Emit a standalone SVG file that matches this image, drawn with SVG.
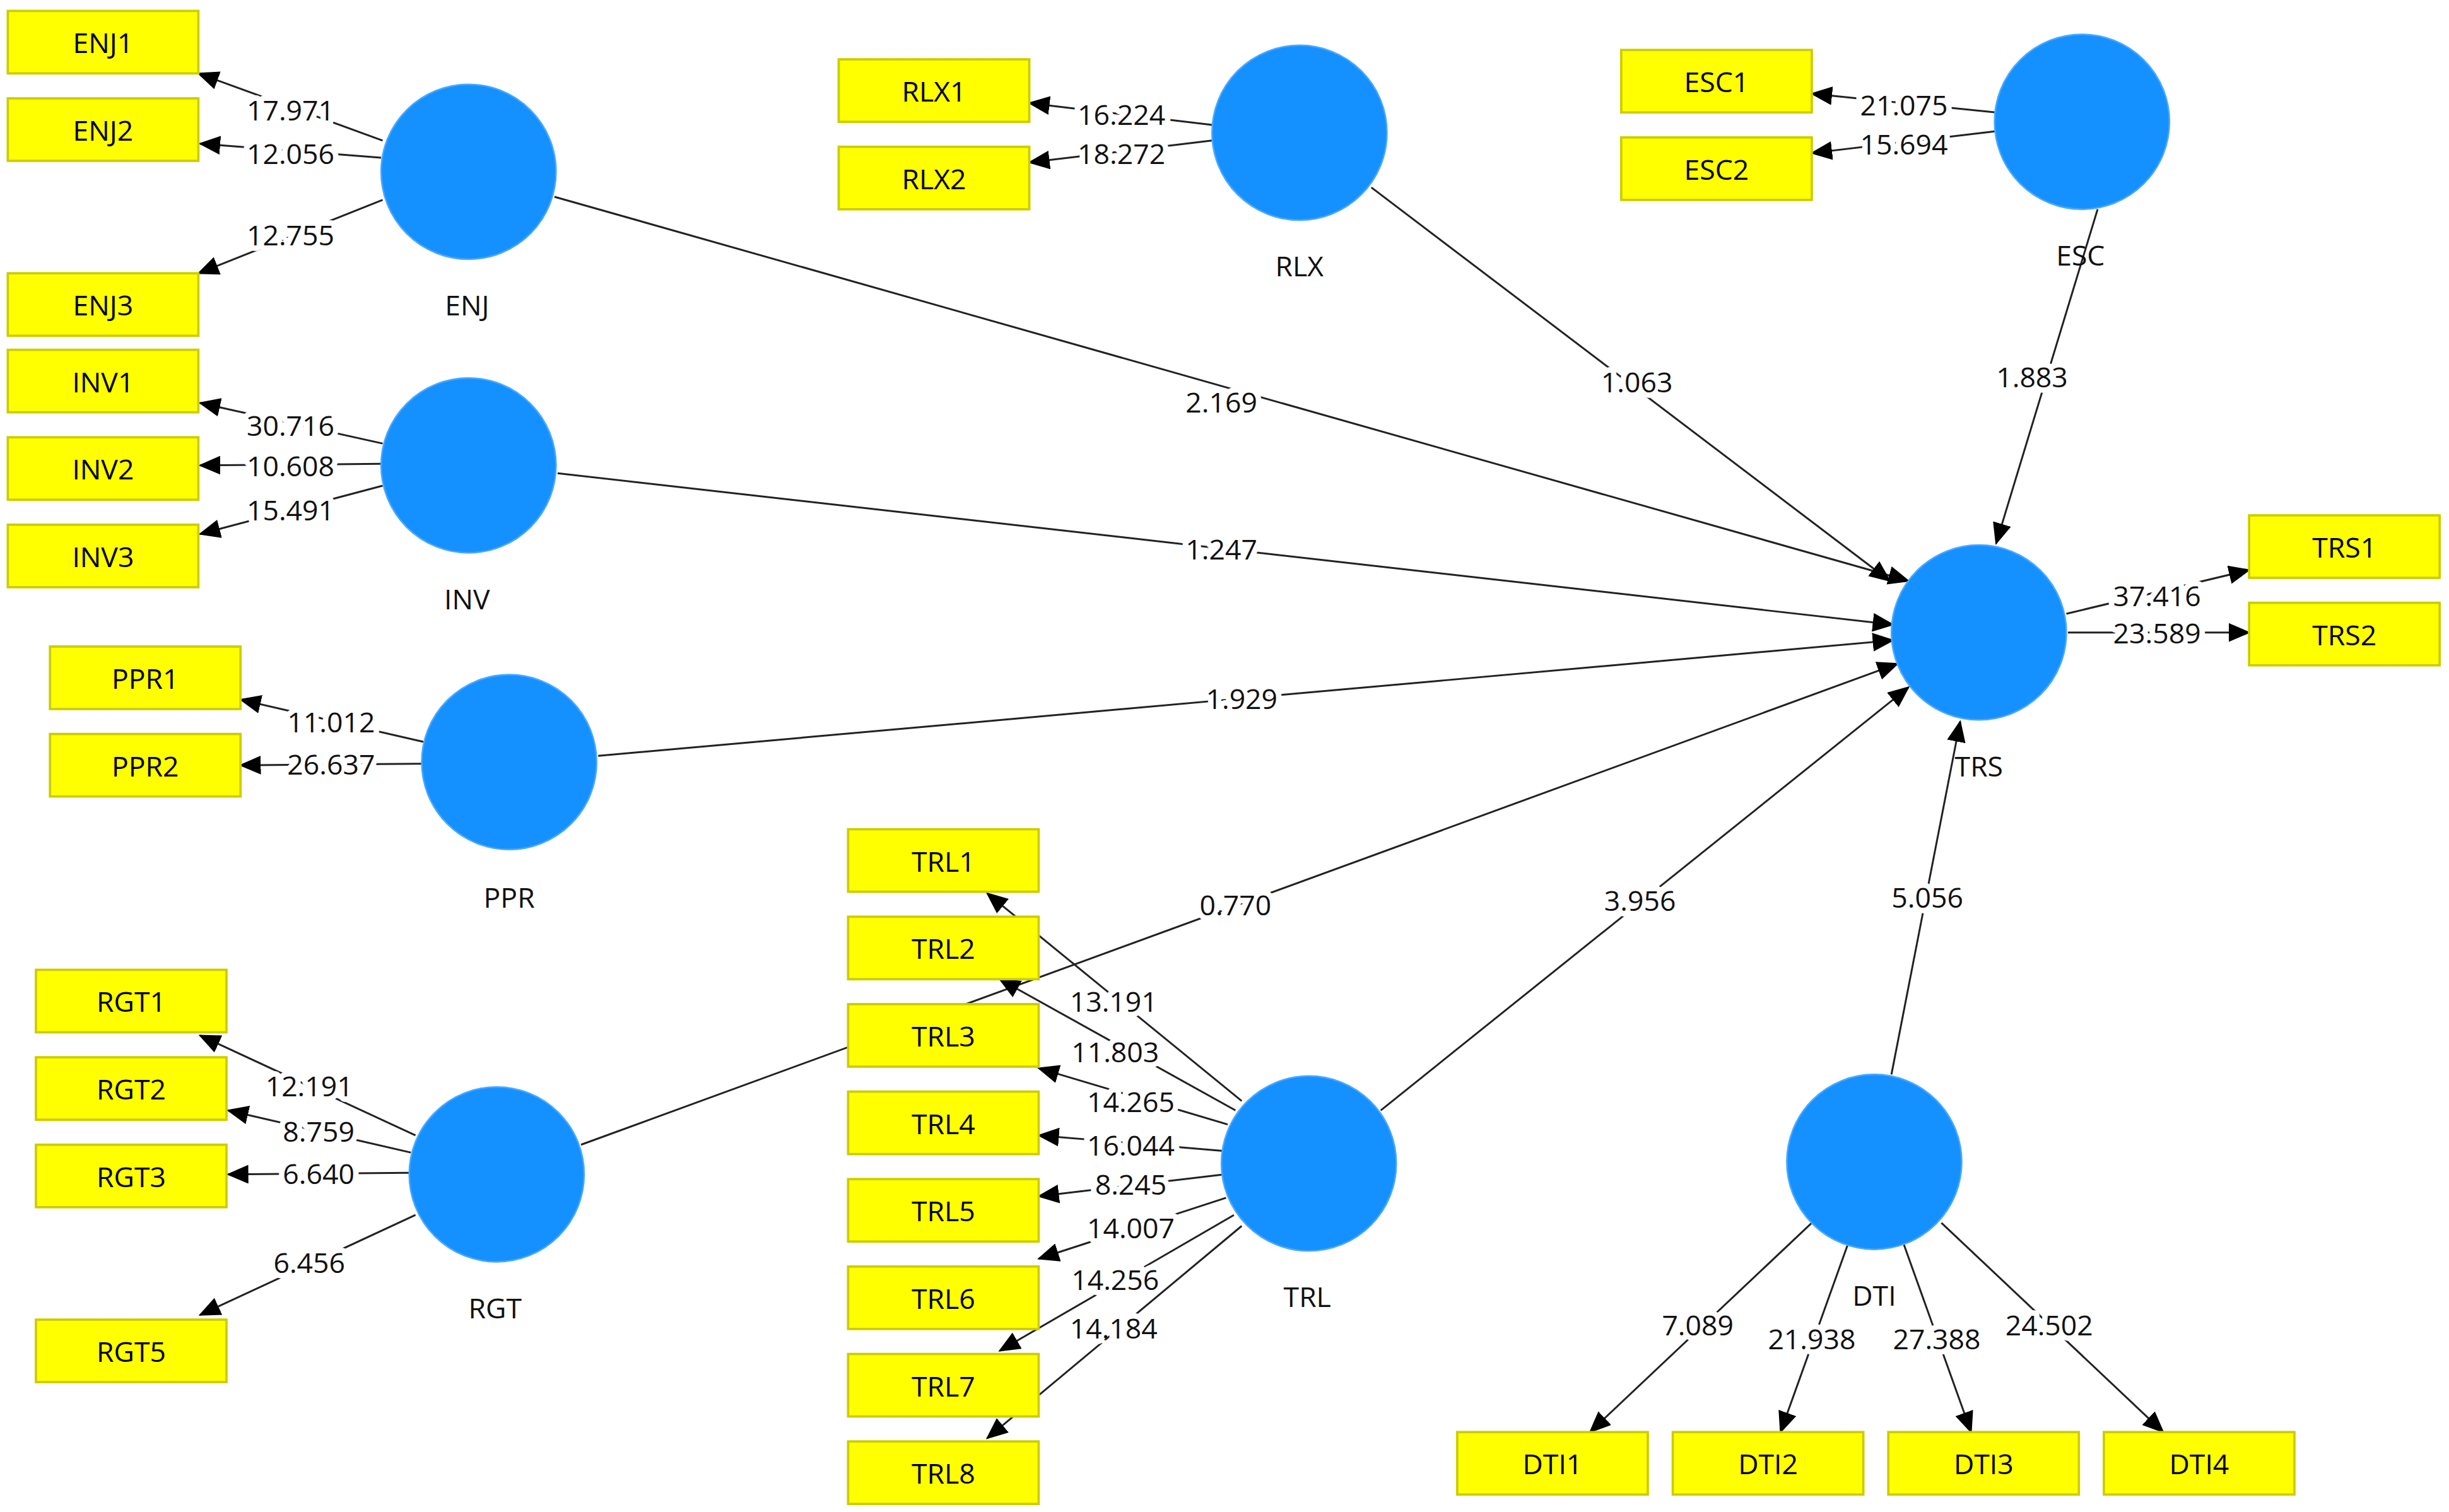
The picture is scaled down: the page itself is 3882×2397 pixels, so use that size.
<svg xmlns="http://www.w3.org/2000/svg" width="3882" height="2397" viewBox="0 0 3882 2397">
<style>
.bx{fill:#ffff00;stroke:#cccc00;stroke-width:1.5}
.bt{font-family:"Open Sans","Liberation Sans",sans-serif;font-size:18px;fill:#000;text-anchor:middle;dominant-baseline:central}
.cn{fill:#1591ff;stroke:#4aa8ff;stroke-width:1}
.ct{font-family:"Open Sans","Liberation Sans",sans-serif;font-size:18px;fill:#111;text-anchor:middle;dominant-baseline:central}
.ln{stroke:#222;stroke-width:1.2;fill:none;marker-end:url(#ah)}
.lb{font-family:"Open Sans","Liberation Sans",sans-serif;font-size:18px;fill:#111;text-anchor:middle;dominant-baseline:central;stroke:#fff;stroke-width:7;paint-order:stroke;stroke-linejoin:round}
</style>
<defs>
<marker id="ah" markerUnits="userSpaceOnUse" markerWidth="14" markerHeight="12" refX="13" refY="6" orient="auto"><path d="M0,0 L14,6 L0,12 z" fill="#000"/></marker>
</defs>
<rect width="3882" height="2397" fill="#fff"/>
<g transform="scale(2.4758)">
<g id="connectors">
<line class="ln" x1="355" y1="126" x2="1222" y2="372"/><text class="lb" x="782" y="257">2.169</text>
<line class="ln" x1="357" y1="303" x2="1212" y2="400"/><text class="lb" x="782" y="351">1.247</text>
<line class="ln" x1="383" y1="484" x2="1212" y2="410"/><text class="lb" x="795" y="447">1.929</text>
<line class="ln" x1="372" y1="733" x2="1215" y2="425"/><text class="lb" x="791" y="579">0.770</text>
<line class="ln" x1="884" y1="711" x2="1222" y2="440"/><text class="lb" x="1050" y="576">3.956</text>
<line class="ln" x1="878" y1="120" x2="1210" y2="372"/><text class="lb" x="1048" y="244">1.063</text>
<line class="ln" x1="1343" y1="134" x2="1278" y2="348"/><text class="lb" x="1301" y="241">1.883</text>
<line class="ln" x1="1211" y1="688" x2="1255" y2="462"/><text class="lb" x="1234" y="574">5.056</text>

<line class="ln" x1="245" y1="90" x2="127" y2="47"/><text class="lb" x="186" y="70">17.971</text>
<line class="ln" x1="244" y1="101" x2="128" y2="92"/><text class="lb" x="186" y="98">12.056</text>
<line class="ln" x1="245" y1="128" x2="127" y2="175"/><text class="lb" x="186" y="150">12.755</text>
<line class="ln" x1="245" y1="284" x2="128" y2="258"/><text class="lb" x="186" y="272">30.716</text>
<line class="ln" x1="244" y1="297" x2="128" y2="298"/><text class="lb" x="186" y="298">10.608</text>
<line class="ln" x1="245" y1="311" x2="128" y2="342"/><text class="lb" x="186" y="326">15.491</text>
<line class="ln" x1="271" y1="475" x2="154" y2="448"/><text class="lb" x="212" y="462">11.012</text>
<line class="ln" x1="270" y1="489" x2="154" y2="490"/><text class="lb" x="212" y="489">26.637</text>
<line class="ln" x1="266" y1="727" x2="128" y2="663"/><text class="lb" x="198" y="695">12.191</text>
<line class="ln" x1="263" y1="738" x2="146" y2="711"/><text class="lb" x="204" y="724">8.759</text>
<line class="ln" x1="262" y1="751" x2="146" y2="752"/><text class="lb" x="204" y="751">6.640</text>
<line class="ln" x1="266" y1="778" x2="128" y2="842"/><text class="lb" x="198" y="808">6.456</text>
<line class="ln" x1="776" y1="80" x2="659" y2="66"/><text class="lb" x="718" y="73">16.224</text>
<line class="ln" x1="776" y1="90" x2="659" y2="104"/><text class="lb" x="718" y="98">18.272</text>
<line class="ln" x1="1278" y1="72" x2="1160" y2="60"/><text class="lb" x="1219" y="67">21.075</text>
<line class="ln" x1="1278" y1="84" x2="1160" y2="98"/><text class="lb" x="1219" y="92">15.694</text>
<line class="ln" x1="1323" y1="393" x2="1440" y2="365"/><text class="lb" x="1381" y="381">37.416</text>
<line class="ln" x1="1324" y1="405" x2="1440" y2="405"/><text class="lb" x="1381" y="405">23.589</text>
<line class="ln" x1="795" y1="705" x2="632" y2="572"/>
<line class="ln" x1="791" y1="711" x2="640" y2="627"/>
<line class="ln" x1="786" y1="720" x2="665" y2="684"/>
<line class="ln" x1="784" y1="737" x2="665" y2="727"/>
<line class="ln" x1="784" y1="752" x2="665" y2="766"/>
<line class="ln" x1="785" y1="767" x2="665" y2="806"/>
<line class="ln" x1="790" y1="778" x2="640" y2="865"/>
<line class="ln" x1="795" y1="785" x2="632" y2="921"/>
<text class="lb" x="713" y="641">13.191</text>
<text class="lb" x="714" y="673">11.803</text>
<text class="lb" x="724" y="705">14.265</text>
<text class="lb" x="724" y="733">16.044</text>
<text class="lb" x="724" y="758">8.245</text>
<text class="lb" x="724" y="786">14.007</text>
<text class="lb" x="714" y="819">14.256</text>
<text class="lb" x="713" y="850">14.184</text>
<line class="ln" x1="1160" y1="783" x2="1018" y2="917"/><text class="lb" x="1087" y="848">7.089</text>
<line class="ln" x1="1183" y1="797" x2="1140" y2="917"/><text class="lb" x="1160" y="857">21.938</text>
<line class="ln" x1="1219" y1="797" x2="1262" y2="917"/><text class="lb" x="1240" y="857">27.388</text>
<line class="ln" x1="1243" y1="783" x2="1385" y2="917"/><text class="lb" x="1312" y="848">24.502</text>
</g>
<g id="ENJ"><circle class="cn" cx="300" cy="110" r="56"/><text class="ct" x="299" y="195">ENJ</text></g>
<g id="INV"><circle class="cn" cx="300" cy="298" r="56"/><text class="ct" x="299" y="383">INV</text></g>
<g id="PPR"><circle class="cn" cx="326" cy="488" r="56"/><text class="ct" x="326" y="574">PPR</text></g>
<g id="RGT"><circle class="cn" cx="318" cy="752" r="56"/><text class="ct" x="317" y="837">RGT</text></g>
<g id="RLX"><circle class="cn" cx="832" cy="85" r="56"/><text class="ct" x="832" y="170">RLX</text></g>
<g id="ESC"><circle class="cn" cx="1333" cy="78" r="56"/><text class="ct" x="1332" y="163">ESC</text></g>
<g id="TRS"><circle class="cn" cx="1267" cy="405" r="56"/><text class="ct" x="1267" y="490">TRS</text></g>
<g id="TRL"><circle class="cn" cx="838" cy="745" r="56"/><text class="ct" x="837" y="830">TRL</text></g>
<g id="DTI"><circle class="cn" cx="1200" cy="744" r="56"/><text class="ct" x="1200" y="829">DTI</text></g>

<g id="ENJ1"><rect class="bx" x="5" y="7" width="122" height="40"/><text class="bt" x="66" y="27">ENJ1</text></g>
<g id="ENJ2"><rect class="bx" x="5" y="63" width="122" height="40"/><text class="bt" x="66" y="83">ENJ2</text></g>
<g id="ENJ3"><rect class="bx" x="5" y="175" width="122" height="40"/><text class="bt" x="66" y="195">ENJ3</text></g>
<g id="INV1"><rect class="bx" x="5" y="224" width="122" height="40"/><text class="bt" x="66" y="244">INV1</text></g>
<g id="INV2"><rect class="bx" x="5" y="280" width="122" height="40"/><text class="bt" x="66" y="300">INV2</text></g>
<g id="INV3"><rect class="bx" x="5" y="336" width="122" height="40"/><text class="bt" x="66" y="356">INV3</text></g>
<g id="PPR1"><rect class="bx" x="32" y="414" width="122" height="40"/><text class="bt" x="93" y="434">PPR1</text></g>
<g id="PPR2"><rect class="bx" x="32" y="470" width="122" height="40"/><text class="bt" x="93" y="490">PPR2</text></g>
<g id="RGT1"><rect class="bx" x="23" y="621" width="122" height="40"/><text class="bt" x="84" y="641">RGT1</text></g>
<g id="RGT2"><rect class="bx" x="23" y="677" width="122" height="40"/><text class="bt" x="84" y="697">RGT2</text></g>
<g id="RGT3"><rect class="bx" x="23" y="733" width="122" height="40"/><text class="bt" x="84" y="753">RGT3</text></g>
<g id="RGT5"><rect class="bx" x="23" y="845" width="122" height="40"/><text class="bt" x="84" y="865">RGT5</text></g>
<g id="RLX1"><rect class="bx" x="537" y="38" width="122" height="40"/><text class="bt" x="598" y="58">RLX1</text></g>
<g id="RLX2"><rect class="bx" x="537" y="94" width="122" height="40"/><text class="bt" x="598" y="114">RLX2</text></g>
<g id="ESC1"><rect class="bx" x="1038" y="32" width="122" height="40"/><text class="bt" x="1099" y="52">ESC1</text></g>
<g id="ESC2"><rect class="bx" x="1038" y="88" width="122" height="40"/><text class="bt" x="1099" y="108">ESC2</text></g>
<g id="TRS1"><rect class="bx" x="1440" y="330" width="122" height="40"/><text class="bt" x="1501" y="350">TRS1</text></g>
<g id="TRS2"><rect class="bx" x="1440" y="386" width="122" height="40"/><text class="bt" x="1501" y="406">TRS2</text></g>
<g id="TRL1"><rect class="bx" x="543" y="531" width="122" height="40"/><text class="bt" x="604" y="551">TRL1</text></g>
<g id="TRL2"><rect class="bx" x="543" y="587" width="122" height="40"/><text class="bt" x="604" y="607">TRL2</text></g>
<g id="TRL3"><rect class="bx" x="543" y="643" width="122" height="40"/><text class="bt" x="604" y="663">TRL3</text></g>
<g id="TRL4"><rect class="bx" x="543" y="699" width="122" height="40"/><text class="bt" x="604" y="719">TRL4</text></g>
<g id="TRL5"><rect class="bx" x="543" y="755" width="122" height="40"/><text class="bt" x="604" y="775">TRL5</text></g>
<g id="TRL6"><rect class="bx" x="543" y="811" width="122" height="40"/><text class="bt" x="604" y="831">TRL6</text></g>
<g id="TRL7"><rect class="bx" x="543" y="867" width="122" height="40"/><text class="bt" x="604" y="887">TRL7</text></g>
<g id="TRL8"><rect class="bx" x="543" y="923" width="122" height="40"/><text class="bt" x="604" y="943">TRL8</text></g>
<g id="DTI1"><rect class="bx" x="933" y="917" width="122" height="40"/><text class="bt" x="994" y="937">DTI1</text></g>
<g id="DTI2"><rect class="bx" x="1071" y="917" width="122" height="40"/><text class="bt" x="1132" y="937">DTI2</text></g>
<g id="DTI3"><rect class="bx" x="1209" y="917" width="122" height="40"/><text class="bt" x="1270" y="937">DTI3</text></g>
<g id="DTI4"><rect class="bx" x="1347" y="917" width="122" height="40"/><text class="bt" x="1408" y="937">DTI4</text></g>
</g>
</svg>
